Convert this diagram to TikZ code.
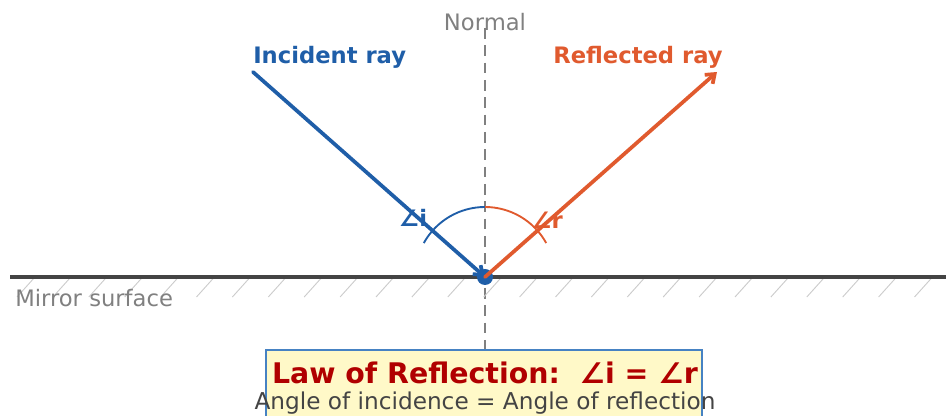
\documentclass[tikz,border=0pt]{standalone}
\usepackage{fontspec}
\setmainfont{DejaVu Sans}
\usepackage{xcolor}
\usetikzlibrary{arrows.meta}
\definecolor{incblue}{RGB}{31,94,168}
\definecolor{reflorange}{RGB}{224,90,46}
\definecolor{lawred}{RGB}{176,0,0}
\definecolor{boxblue}{RGB}{70,130,195}
\definecolor{boxfill}{RGB}{255,249,200}
\definecolor{mirrorgray}{RGB}{68,68,68}

\begin{document}
\begin{tikzpicture}[x=0.75pt,y=0.75pt,>={Straight Barb[length=6pt,width=9pt]},
  ray/.style={line width=2.8pt,line cap=round},
  anglearc/.style={line width=1.4pt},
  lbl/.style={inner sep=0pt,font=\fontsize{17}{20}\selectfont},
  boldlbl/.style={lbl,font=\fontsize{17}{20}\selectfont\bfseries}]
  \useasboundingbox (0,0) rectangle (946,416);
  \clip (0,0) rectangle (946,416);
  \coordinate (O) at (485,139);
  \coordinate (src) at (253,344);
  \coordinate (dst) at (717,344);
  \coordinate (mL) at (10,139);
  \coordinate (mR) at (946,139);
  \coordinate (nT) at (485,388);
  \coordinate (nB) at (485,66);
  \draw[gray,line width=2pt,dash pattern=on 8pt off 5pt] (nT) -- (nB);
  \foreach \k in {0,...,25}
    \draw[black!20,line width=0.7pt] ({35+35.9*\k},139) -- ++(-18,-20);
  \draw[mirrorgray,line width=2.8pt] (mL) -- (mR);
  \draw[incblue,anglearc] ([shift={(90:70)}]O) arc[start angle=90,end angle=151,radius=70];
  \draw[reflorange,anglearc] ([shift={(90:70)}]O) arc[start angle=90,end angle=29,radius=70];
  \fill[incblue] (O) circle[radius=8];
  \draw[ray,incblue,->] (src) -- (O);
  \draw[ray,reflorange,->] (O) -- (dst);
  \node[lbl,text=gray] (normal) at (485,394) {Normal};
  \node[boldlbl,text=incblue,anchor=west] (incident) at (253,359) {Incident ray};
  \node[boldlbl,text=reflorange] (reflected) at (638,359) {Reflected ray};
  \node[lbl,text=gray,anchor=west] (mirror) at (15,118) {Mirror surface};
  \node[boldlbl,text=incblue] (angi) at (413,198) {∠i};
  \node[boldlbl,text=reflorange] (angr) at (547,196) {∠r};
  \draw[boxblue,fill=boxfill,line width=2pt] (266,66) rectangle (702,-30);
  \node[inner sep=0pt,text=lawred,font=\fontsize{21.3}{24}\selectfont\bfseries] (law) at (485,43) {Law of Reflection:\ \ ∠i = ∠r};
  \node[lbl,text=mirrorgray,font=\fontsize{17.4}{20}\selectfont] (sub) at (485,13) {Angle of incidence = Angle of reflection};
\end{tikzpicture}
\end{document}
